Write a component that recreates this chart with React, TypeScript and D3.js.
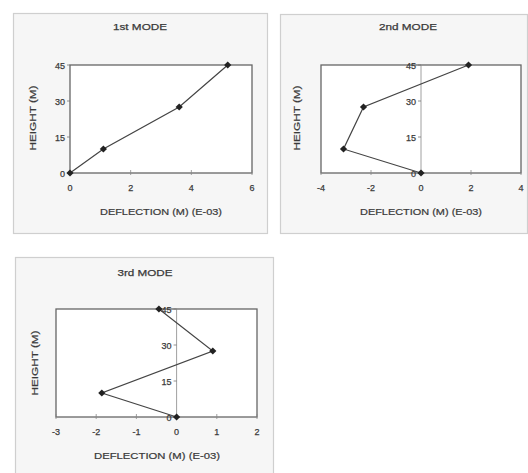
import React from "react";
import * as d3 from "d3";

const heights = [0, 10, 27.5, 45];
const mode1 = [0, 1.1, 3.6, 5.2];
const mode2 = [0, -3.1, -2.3, 1.9];
const mode3 = [0, -1.86, 0.9, -0.44];
const yTicks = [0, 15, 30, 45];
const xTicks1 = [0, 2, 4, 6];
const xTicks2 = [-4, -2, 0, 2, 4];
const xTicks3 = [-3, -2, -1, 0, 1, 2];
const titles = ["1st MODE", "2nd MODE", "3rd MODE"];
const xTitles = ["DEFLECTION (M) (E-03)", "DEFLECTION (M) (E-03)", "DEFLECTION (M) (E-03)"];
const yTitle = "HEIGHT (M)";

const FONT = "'Liberation Sans', Arial, sans-serif";

type PanelProps = {
  outer: { x: number; y: number; w: number; h: number };
  plot: { x: number; y: number; w: number; h: number };
  xDomain: [number, number];
  xTicks: number[];
  values: number[];
  title: string;
  titleW: number;
  xTitle: string;
  xTitleW: number;
  yAxisAtZero: boolean;
  titleCx: number;
  titleY: number;
  xTitleCx: number;
  yTitleX: number;
  yTitleCy: number;
};

function Panel(p: PanelProps) {
  const x = d3.scaleLinear().domain(p.xDomain).range([p.plot.x, p.plot.x + p.plot.w]);
  const y = d3.scaleLinear().domain([0, 45]).range([p.plot.y + p.plot.h, p.plot.y]);
  const pts = p.values.map((v, i) => [x(v), y(heights[i])] as [number, number]);
  const line = d3.line()(pts) || "";
  const axisX = p.yAxisAtZero ? x(0) : p.plot.x;
  const bottom = p.plot.y + p.plot.h;
  const marker = d3.symbol().type(d3.symbolSquare).size(26)() || "";
  const textColor = "#3a3a3a";
  return (
    <g>
      <rect x={p.outer.x + 0.5} y={p.outer.y + 0.5} width={p.outer.w} height={p.outer.h} fill="#f6f6f6" stroke="#cfcfcf" strokeWidth={1.2} />
      <text x={p.titleCx} y={p.titleY} textAnchor="middle" fontFamily={FONT} fontSize={9.5} fill={textColor} stroke={textColor} strokeWidth={0.25} textLength={p.titleW} lengthAdjust="spacingAndGlyphs">{p.title}</text>
      <rect x={p.plot.x} y={p.plot.y} width={p.plot.w} height={p.plot.h} fill="#fff" stroke="#666" strokeWidth={1.3} />
      {p.yAxisAtZero && <line x1={axisX} x2={axisX} y1={p.plot.y} y2={bottom} stroke="#888" strokeWidth={0.8} />}
      {yTicks.map((t) => (
        <g key={"y" + t}>
          <line x1={axisX - 3} x2={axisX} y1={y(t)} y2={y(t)} stroke="#777" strokeWidth={0.8} />
          <text x={axisX - 5} y={y(t) + 3.5} textAnchor="end" fontFamily={FONT} fontSize={9} fill={textColor} stroke={textColor} strokeWidth={0.25}>{t}</text>
        </g>
      ))}
      {p.xTicks.map((t) => (
        <g key={"x" + t}>
          <line x1={x(t)} x2={x(t)} y1={bottom - 3} y2={bottom + 2} stroke="#888" strokeWidth={0.8} />
          <text x={x(t)} y={bottom + 18} textAnchor="middle" fontFamily={FONT} fontSize={9} fill={textColor} stroke={textColor} strokeWidth={0.25}>{t}</text>
        </g>
      ))}
      <text x={p.xTitleCx} y={bottom + 42} textAnchor="middle" fontFamily={FONT} fontSize={9} fill={textColor} stroke={textColor} strokeWidth={0.2} textLength={p.xTitleW} lengthAdjust="spacingAndGlyphs">{p.xTitle}</text>
      <text transform={`translate(${p.yTitleX},${p.yTitleCy}) rotate(-90)`} y={3} textAnchor="middle" fontFamily={FONT} fontSize={9} fill={textColor} stroke={textColor} strokeWidth={0.2} textLength={65} lengthAdjust="spacingAndGlyphs">{yTitle}</text>
      <path d={line} fill="none" stroke="#444" strokeWidth={1.2} />
      {pts.map((pt, i) => (
        <path key={i} d={marker} transform={`translate(${pt[0]},${pt[1]}) rotate(45)`} fill="#222" />
      ))}
    </g>
  );
}

export default function App() {
  return (
    <div style={{ position: "absolute", left: 0, top: 0 }}>
      <svg width={528} height={473} style={{ display: "block", background: "#fff" }}>
        <Panel
          outer={{ x: 13, y: 13, w: 254, h: 220 }}
          plot={{ x: 70, y: 65, w: 182, h: 108 }}
          xDomain={[0, 6]}
          xTicks={xTicks1}
          values={mode1}
          title={titles[0]}
          titleW={54}
          xTitle={xTitles[0]}
          xTitleW={122}
          yAxisAtZero={false}
          titleCx={140}
          titleY={30}
          xTitleCx={161}
          yTitleX={33}
          yTitleCy={118}
        />
        <Panel
          outer={{ x: 280, y: 14, w: 247, h: 219 }}
          plot={{ x: 321, y: 65, w: 200, h: 108 }}
          xDomain={[-4, 4]}
          xTicks={xTicks2}
          values={mode2}
          title={titles[1]}
          titleW={58}
          xTitle={xTitles[1]}
          xTitleW={122}
          yAxisAtZero={true}
          titleCx={408}
          titleY={30}
          xTitleCx={421}
          yTitleX={297}
          yTitleCy={118}
        />
        <Panel
          outer={{ x: 15, y: 257, w: 258, h: 218 }}
          plot={{ x: 56, y: 309, w: 201, h: 108 }}
          xDomain={[-3, 2]}
          xTicks={xTicks3}
          values={mode3}
          title={titles[2]}
          titleW={55}
          xTitle={xTitles[2]}
          xTitleW={126}
          yAxisAtZero={true}
          titleCx={145}
          titleY={276}
          xTitleCx={157}
          yTitleX={35}
          yTitleCy={363}
        />
      </svg>
    </div>
  );
}
